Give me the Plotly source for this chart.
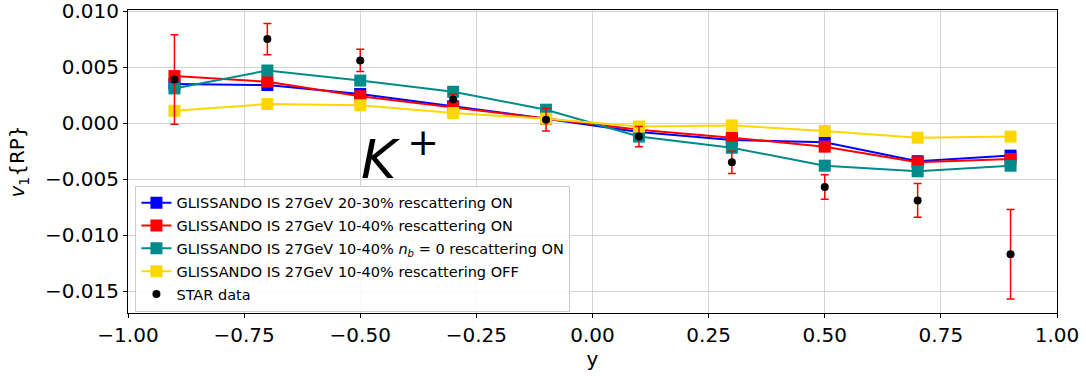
import plotly.graph_objects as go

y_vals = [-0.9, -0.7, -0.5, -0.3, -0.1, 0.1, 0.3, 0.5, 0.7, 0.9]

blue_2030 = [0.0035, 0.0034, 0.0026, 0.0015, 0.0004, -0.0008, -0.0015, -0.0017, -0.0034, -0.0029]
red_1040 = [0.0042, 0.0037, 0.0024, 0.0014, 0.0004, -0.0006, -0.0013, -0.0021, -0.0035, -0.0032]
teal_nb0 = [0.0031, 0.0047, 0.0038, 0.0028, 0.0012, -0.0012, -0.0022, -0.0038, -0.0043, -0.0038]
yellow_off = [0.0011, 0.0017, 0.0016, 0.0009, 0.0004, -0.0003, -0.0002, -0.0007, -0.0013, -0.0012]

star_v1 = [0.0039, 0.0075, 0.0056, 0.0021, 0.0003, -0.0012, -0.0035, -0.0057, -0.0069, -0.0117]
star_err = [0.0040, 0.0014, 0.0010, 0.0005, 0.0010, 0.0009, 0.0010, 0.0011, 0.0015, 0.0040]

names = [
    "GLISSANDO IS 27GeV 20-30% rescattering ON",
    "GLISSANDO IS 27GeV 10-40% rescattering ON",
    "GLISSANDO IS 27GeV 10-40% <i>n<sub>b</sub></i> = 0 rescattering ON",
    "GLISSANDO IS 27GeV 10-40% rescattering OFF",
]
series = [blue_2030, red_1040, teal_nb0, yellow_off]
colors = ["#0000ff", "#ff0000", "#008b8b", "#ffd700"]

fig = go.Figure()
for i, (nm, s, c) in enumerate(zip(names, series, colors)):
    fig.add_trace(go.Scatter(
        x=y_vals, y=s, name=nm, mode="lines+markers",
        line=dict(color=c, width=2),
        marker=dict(symbol="square", size=12, color=c),
        legendgroup=f"g{i}",
    ))

fig.add_trace(go.Scatter(
    x=y_vals, y=star_v1, name="STAR data", mode="markers",
    marker=dict(symbol="circle", size=8, color="black"),
    error_y=dict(type="data", array=star_err, color="red", thickness=1.5, width=4),
    legendgroup="g4",
))

fig.add_annotation(
    x=-0.414, y=-0.0029, xref="x", yref="y",
    text="<i>K</i>&#8201;<sup>+</sup>", showarrow=False,
    font=dict(size=54, color="black", family="DejaVu Sans"),
)

axis_common = dict(
    showgrid=True, gridcolor="#d3d3d3", gridwidth=1,
    showline=True, linecolor="black", linewidth=1, mirror=True,
    ticks="outside", ticklen=4, tickcolor="black",
    tickfont=dict(size=20, color="black"),
    zeroline=False, automargin=False, ticklabeloverflow="allow",
)

fig.update_xaxes(
    range=[-1.0, 1.0], tickvals=[-1.0, -0.75, -0.5, -0.25, 0.0, 0.25, 0.5, 0.75, 1.0],
    tickformat=".2f",
    title=dict(text="y", font=dict(size=20, color="black"), standoff=4),
    **axis_common,
)
fig.update_yaxes(
    range=[-0.01695, 0.0101], tickvals=[-0.015, -0.010, -0.005, 0.0, 0.005, 0.010],
    tickformat=".3f",
    title=dict(text="<i>v</i><sub>1</sub>{RP}", font=dict(size=20, color="black"), standoff=14),
    **axis_common,
)

fig.update_layout(
    width=1086, height=376,
    margin=dict(l=128, r=29, t=10, b=63),
    paper_bgcolor="white", plot_bgcolor="white",
    font=dict(family="DejaVu Sans", color="black"),
    showlegend=True,
    legend=dict(
        x=0.008, y=0.42, xanchor="left", yanchor="top",
        bgcolor="rgba(255,255,255,0.85)", bordercolor="#cccccc", borderwidth=1,
        font=dict(size=14.5, color="black"),
        tracegroupgap=1,
    ),
)

fig.write_html("out.html")
